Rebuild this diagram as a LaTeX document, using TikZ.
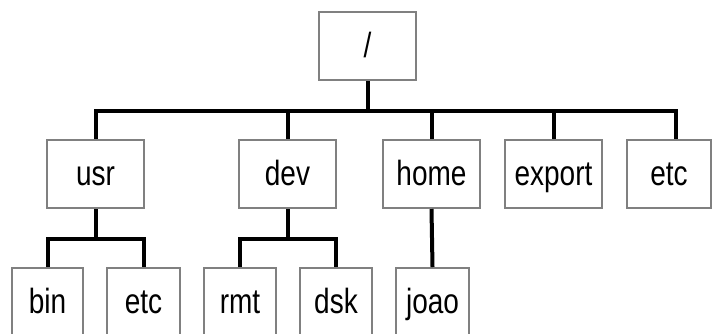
\documentclass[tikz,border=0pt]{standalone}
\usepackage{fontspec}
\setmainfont{Liberation Sans}[FakeStretch=0.8]
\usepackage{xcolor}
\tikzstyle{dir box}=[
        draw = gray,
        line width = 2pt,
        fill = white,
        minimum width = 97pt,
        minimum height = 68pt,
        inner sep = 0pt,
        text height = 26pt,
        text depth = 4pt,
        font = \fontsize{35}{40}\selectfont
    ]
\tikzstyle{leaf box}=[
        dir box,
        minimum width = 72pt
    ]

\begin{document}
\begin{tikzpicture}[x=1pt, y=1pt, bus/.style = {line width = 4pt}]
        \useasboundingbox (0,0) rectangle (714,-333);
        \clip (0,0) rectangle (714,-333);
        \node[dir box] (root) at (367.5,-46) {/};
        \node[dir box] (usr) at (95.5,-174) {usr};
        \node[dir box] (dev) at (287.5,-174) {dev};
        \node[dir box] (home) at (431.5,-174) {home};
        \node[dir box] (export) at (553.5,-174) {export};
        \node[dir box, minimum width = 84pt] (etc) at (669,-174) {etc};
        \node[leaf box, minimum width = 71pt] (bin) at (47.5,-302) {bin};
        \node[leaf box, minimum width = 73pt] (usretc) at (143.5,-302) {etc};
        \node[leaf box] (rmt) at (240,-302) {rmt};
        \node[leaf box] (dsk) at (336,-302) {dsk};
        \node[leaf box, minimum width = 73pt] (joao) at (432.5,-302) {joao};

        \draw[bus] (root.south) -- ++(0,-30) -| (usr.north);
        \draw[bus] (root.south) -- ++(0,-30) -| (dev.north);
        \draw[bus] (root.south) -- ++(0,-30) -| (home.north);
        \draw[bus] (root.south) -- ++(0,-30) -| (export.north);
        \draw[bus] (root.south) -- ++(0,-30) -| ([xshift=7]etc.north);
        \draw[bus] (usr.south) -- ++(0,-30) -| (bin.north);
        \draw[bus] (usr.south) -- ++(0,-30) -| (usretc.north);
        \draw[bus] (dev.south) -- ++(0,-30) -| (rmt.north);
        \draw[bus] (dev.south) -- ++(0,-30) -| (dsk.north);
        \draw[bus] (home.south) -- (joao.north);
    \end{tikzpicture}
\end{document}
